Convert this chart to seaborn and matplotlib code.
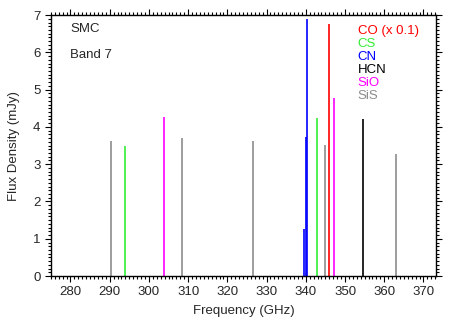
import numpy as np
import pandas as pd
import matplotlib
matplotlib.use("Agg")
import matplotlib.pyplot as plt
from matplotlib.ticker import MultipleLocator
import seaborn as sns

# line catalogue
freq = [290.3, 293.9, 303.9, 308.5, 326.6, 339.5, 340.0, 340.25, 342.9, 344.8, 345.8, 347.3, 354.5, 362.9]
flux = [3.62, 3.49, 4.26, 3.69, 3.61, 1.25, 3.74, 6.89, 4.24, 3.51, 6.75, 4.78, 4.21, 3.27]
species = ["SiS", "CS", "SiO", "SiS", "SiS", "CN", "CN", "CN", "CS", "SiS", "CO", "SiO", "HCN", "SiS"]

labels = ["CO (x 0.1)", "CS", "CN", "HCN", "SiO", "SiS"]
names = ["CO", "CS", "CN", "HCN", "SiO", "SiS"]
colors = {"CO": "#ff0000", "CS": "#33ee33", "CN": "#0000ff", "HCN": "#000000",
          "SiO": "#ff00ff", "SiS": "#8c8c8c"}

df = pd.DataFrame({"freq": freq, "flux": flux, "species": species})

sns.set_style("ticks")
plt.rcParams['font.family'] = ['Liberation Sans', 'DejaVu Sans']

fig = plt.figure(figsize=(4.58, 3.21), dpi=100)
ax = fig.add_axes([0.111, 0.140, 0.841, 0.813])

for sp, grp in df.groupby("species"):
    ax.vlines(grp["freq"], 0, grp["flux"], color=colors[sp], linewidth=1.2)

ax.set_xlim(275, 373.2)
ax.set_ylim(0, 7)
ax.xaxis.set_major_locator(MultipleLocator(10))
ax.xaxis.set_minor_locator(MultipleLocator(1))
ax.yaxis.set_major_locator(MultipleLocator(1))
ax.yaxis.set_minor_locator(MultipleLocator(0.1))
ax.tick_params(which="both", direction="out", top=True, right=True,
               labelsize=9.5, width=0.8, color="black")
ax.tick_params(which="major", length=4)
ax.tick_params(which="minor", length=2)
for s in ax.spines.values():
    s.set_linewidth(1.0)
    s.set_color("black")

ax.set_xlabel("Frequency (GHz)", fontsize=9.5, labelpad=5)
ax.set_ylabel("Flux Density (mJy)", fontsize=9.5, labelpad=9)

ax.text(0.05, 0.946, "SMC", transform=ax.transAxes, fontsize=9.5, va="center")
ax.text(0.05, 0.847, "Band 7", transform=ax.transAxes, fontsize=9.5, va="center")

for i, (lab, nm) in enumerate(zip(labels, names)):
    ax.text(0.797, 0.938 - i * 0.0494, lab, transform=ax.transAxes,
            color=colors[nm], fontsize=9.5, va="center")

fig.savefig("out.png", dpi=100)
